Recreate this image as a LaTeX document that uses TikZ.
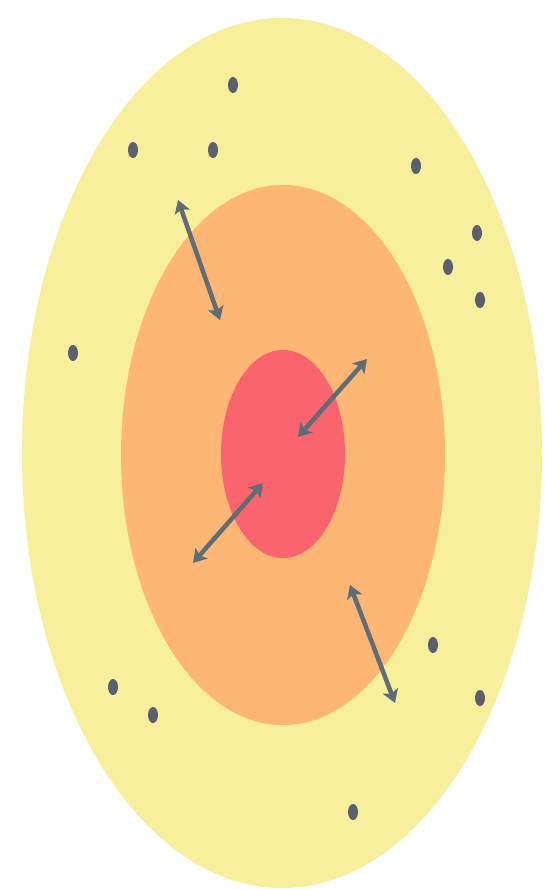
\documentclass[tikz,border=0pt]{standalone}
\usetikzlibrary{arrows.meta}
\definecolor{outerc}{HTML}{F7EF9B}
\definecolor{midc}{HTML}{FDB673}
\definecolor{innerc}{HTML}{F9646F}
\definecolor{dotc}{HTML}{5A6070}
\definecolor{arrc}{HTML}{5F6D77}
\tikzset{
  exch/.style={arrc,line width=4.5pt,{Stealth[length=13pt,width=16pt,inset=3pt]}-{Stealth[length=13pt,width=16pt,inset=3pt]}}
}
\begin{document}
\begin{tikzpicture}[x=1pt,y=-1pt]
\useasboundingbox (0,0) rectangle (545,890);
\fill[outerc] (282,453) ellipse [x radius=260, y radius=435];
\fill[midc] (283,455) ellipse [x radius=162, y radius=270];
\fill[innerc] (283,454) ellipse [x radius=62, y radius=104];
% particles
\foreach \n/\px/\py in {d1/233/85, d2/133/150, d3/213/150, d4/416/166, d5/477/233, d6/448/267, d7/480/300, d8/73/353, d9/433/645, d10/113/687, d11/153/715, d12/480/698, d13/353/812}{
  \fill[dotc] (\px,\py) ellipse [x radius=5, y radius=8];
  \coordinate (\n) at (\px,\py);
}
% arrows
\coordinate (a1s) at (178,200);
\coordinate (a1e) at (220,320);
\coordinate (a2s) at (367,359);
\coordinate (a2e) at (298,437);
\coordinate (a3s) at (263,483);
\coordinate (a3e) at (193,563);
\coordinate (a4s) at (350,585);
\coordinate (a4e) at (395,703);
\draw[exch] (a1s) -- (a1e);
\draw[exch] (a2s) -- (a2e);
\draw[exch] (a3s) -- (a3e);
\draw[exch] (a4s) -- (a4e);
\end{tikzpicture}
\end{document}
